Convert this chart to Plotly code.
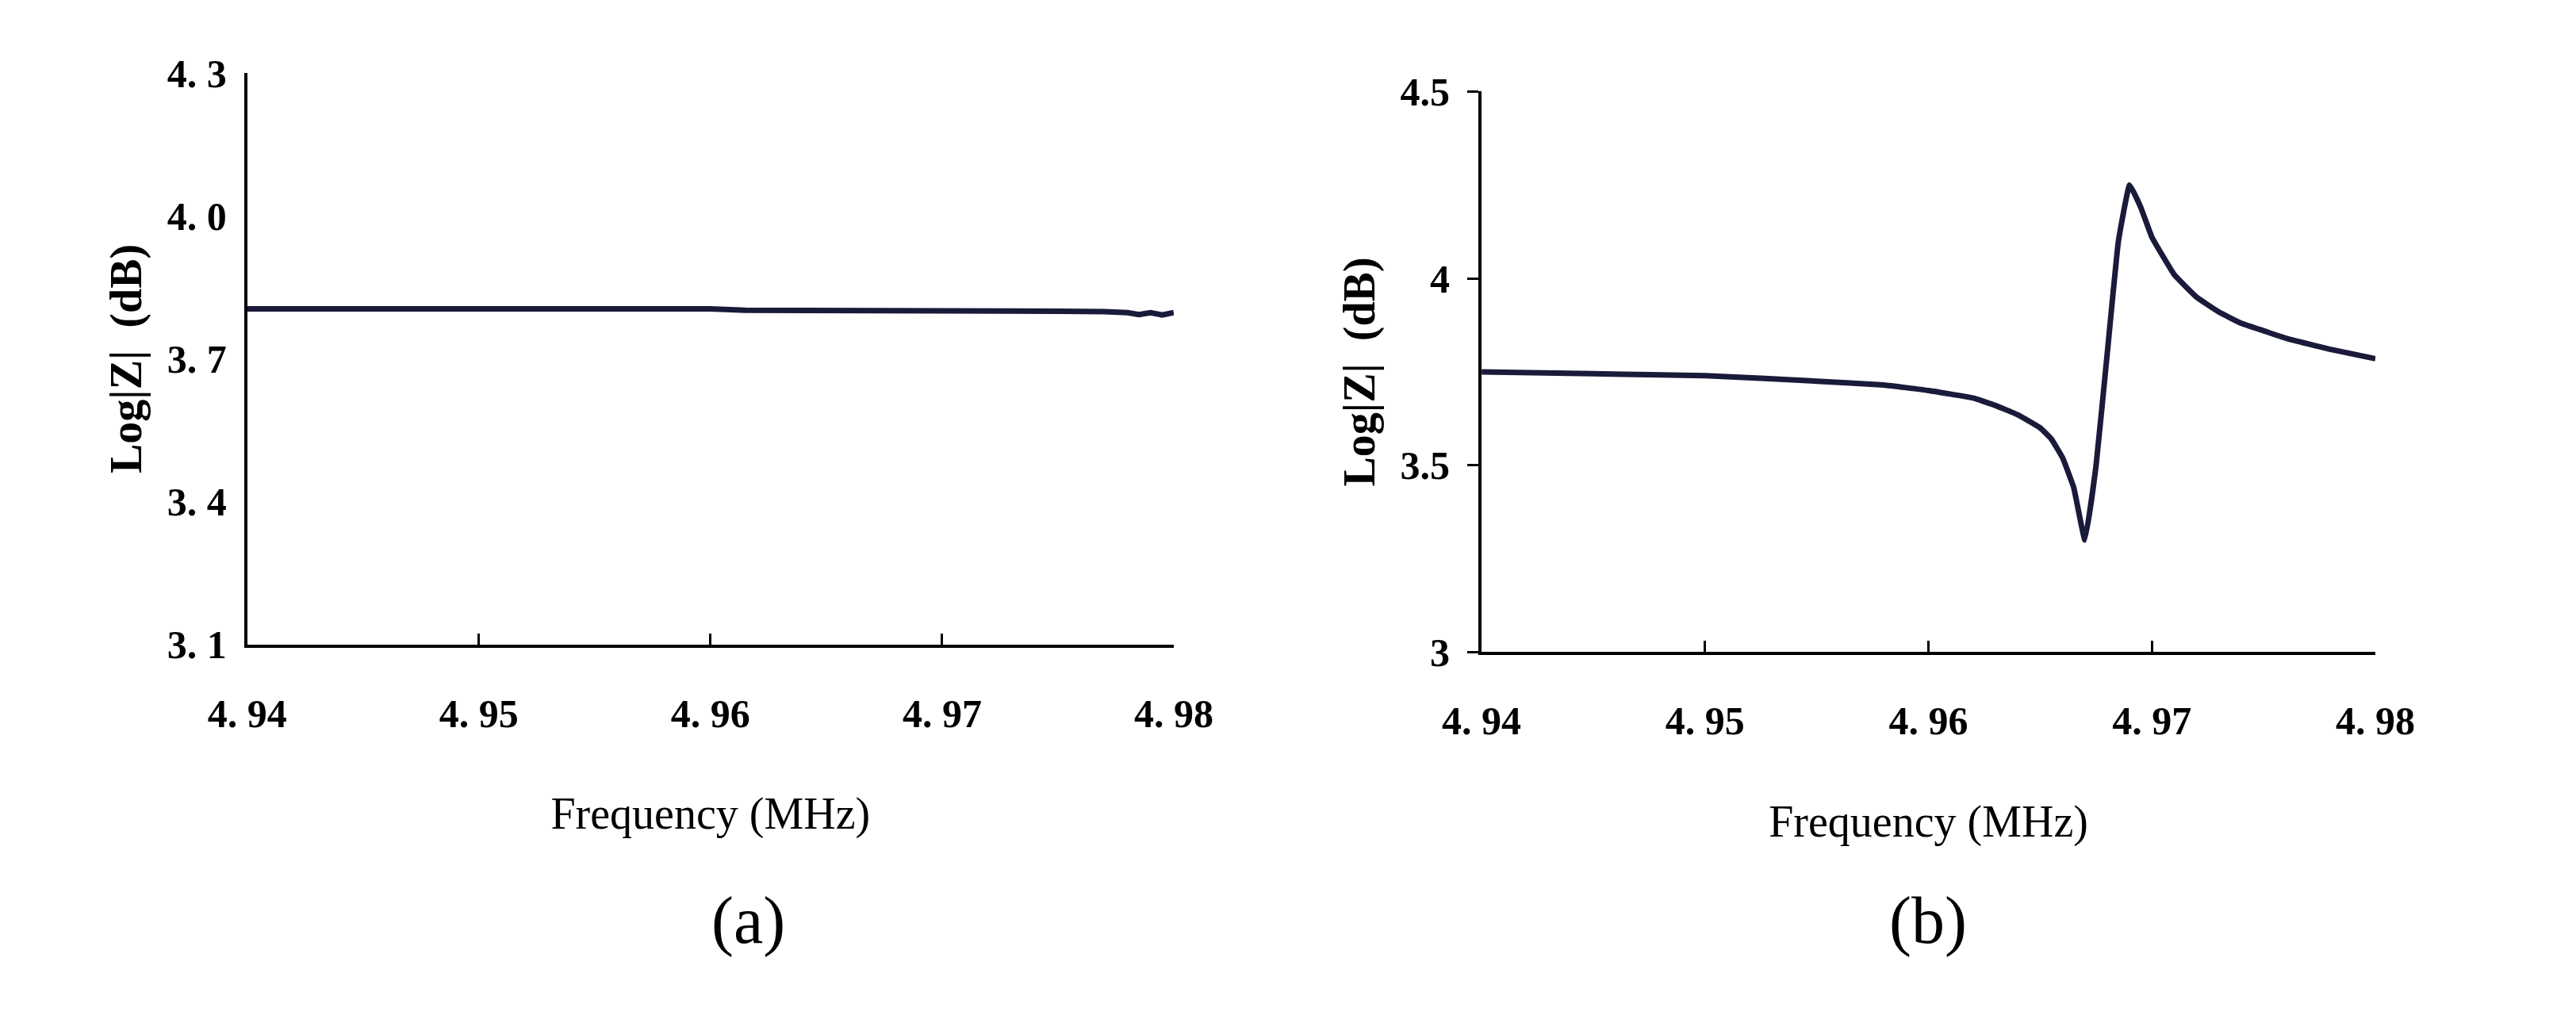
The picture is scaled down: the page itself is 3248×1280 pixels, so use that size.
import plotly.graph_objects as go

# panel (a): nearly flat response
freq_a = [4.94, 4.945, 4.95, 4.955, 4.96, 4.9615, 4.965, 4.97, 4.9715, 4.975, 4.977, 4.978, 4.9785, 4.979, 4.9795, 4.98]
logz_a = [3.805, 3.805, 3.805, 3.805, 3.805, 3.802, 3.802, 3.802, 3.800, 3.800, 3.799, 3.797, 3.793, 3.797, 3.792, 3.797]

# panel (b): resonance
freq_b = [4.94, 4.945, 4.95, 4.955, 4.958, 4.96, 4.962, 4.963, 4.964, 4.965, 4.9655, 4.966, 4.9665, 4.967,
          4.9675, 4.968, 4.9685, 4.969, 4.9695, 4.970, 4.971, 4.972, 4.973, 4.974, 4.975, 4.976, 4.978, 4.98]
logz_b = [3.75, 3.745, 3.74, 3.725, 3.715, 3.70, 3.68, 3.66, 3.635, 3.60, 3.57, 3.52, 3.44, 3.30,
          3.50, 3.80, 4.10, 4.25, 4.19, 4.11, 4.01, 3.95, 3.91, 3.88, 3.86, 3.84, 3.81, 3.785]

x_ticks = [4.94, 4.95, 4.96, 4.97, 4.98]
x_labels = ["4. 94", "4. 95", "4. 96", "4. 97", "4. 98"]

FONT = "Liberation Serif"
LINE = "#1a1a3a"

fig = go.Figure()
fig.add_trace(go.Scatter(x=freq_a, y=logz_a, mode="lines", line={"color": LINE, "width": 7},
                         xaxis="x", yaxis="y", showlegend=False))
fig.add_trace(go.Scatter(x=freq_b, y=logz_b, mode="lines", line={"color": LINE, "width": 7, "shape": "spline", "smoothing": 0.3},
                         xaxis="x2", yaxis="y2", showlegend=False))

tick_font = {"family": FONT, "size": 50, "color": "black", "weight": "bold"}
title_font = {"family": FONT, "size": 56, "color": "black"}
axis_common = dict(showgrid=False, zeroline=False, showline=True, linecolor="black", linewidth=4,
                   tickfont=tick_font, ticklen=14, tickwidth=3, tickcolor="black")

fig.update_layout(
    width=3248, height=1280,
    paper_bgcolor="white", plot_bgcolor="white",
    margin={"l": 0, "r": 0, "t": 0, "b": 0},
    font={"family": FONT, "color": "black"},
    xaxis=dict(axis_common, domain=[0.0806, 0.4517], range=[4.94, 4.98], tickvals=x_ticks, ticktext=x_labels,
               ticks="inside", anchor="y", ticklabelstandoff=40,
               title={"text": "Frequency (MHz)", "font": title_font, "standoff": 80}),
    yaxis=dict(axis_common, domain=[0.365, 0.954], range=[3.1, 4.3], tickvals=[3.1, 3.4, 3.7, 4.0, 4.3],
               ticktext=["3. 1", "3. 4", "3. 7", "4. 0", "4. 3"], ticks="", anchor="x", ticklabelstandoff=12,
               title={"text": "<b>Log|Z|  (dB)</b>", "font": title_font, "standoff": 15}),
    xaxis2=dict(axis_common, domain=[0.575, 0.933], range=[4.94, 4.98], tickvals=x_ticks, ticktext=x_labels,
                ticks="inside", anchor="y2", ticklabelstandoff=40,
                title={"text": "Frequency (MHz)", "font": title_font, "standoff": 80}),
    yaxis2=dict(axis_common, domain=[0.357, 0.935], range=[3, 4.5], tickvals=[3, 3.5, 4, 4.5],
                ticktext=["3", "3.5", "4", "4.5"], ticks="outside", anchor="x2", ticklabelstandoff=12,
                title={"text": "<b>Log|Z|  (dB)</b>", "font": title_font, "standoff": 15}),
    annotations=[
        dict(text="(a)", x=0.266, y=0.04, xref="paper", yref="paper", showarrow=False,
             font={"family": FONT, "size": 84}),
        dict(text="(b)", x=0.77, y=0.04, xref="paper", yref="paper", showarrow=False,
             font={"family": FONT, "size": 84}),
    ],
)

fig.write_html("out.html")
